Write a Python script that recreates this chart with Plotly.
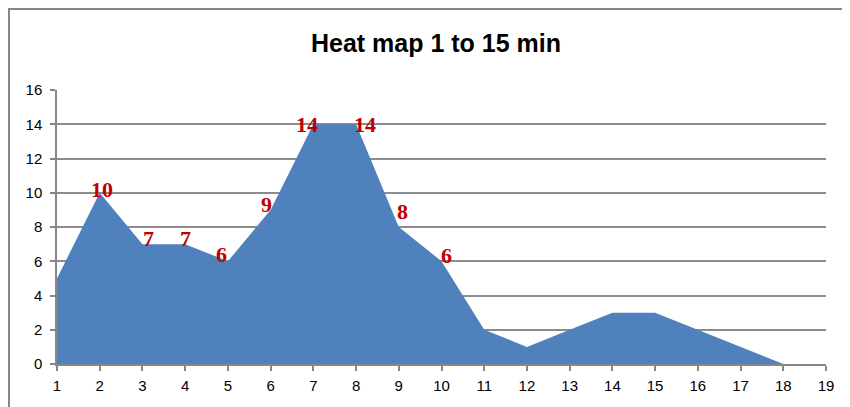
import plotly.graph_objects as go

minutes = [1, 2, 3, 4, 5, 6, 7, 8, 9, 10, 11, 12, 13, 14, 15, 16, 17, 18]
counts = [5, 10, 7, 7, 6, 9, 14, 14, 8, 6, 2, 1, 2, 3, 3, 2, 1, 0]

# labelled points (minute -> shown value)
label_minutes = [2, 3, 4, 5, 6, 7, 8, 9, 10]
label_values = [10, 7, 7, 6, 9, 14, 14, 8, 6]
# pixel nudges of the labels (style)
label_dx = [2, 6, 0, -6, -4, -6, 9, 4, 5]
label_dy = [3, 6, 6, 7, 5, 0, 0, 16, 6]

x_ticks = list(range(1, 20))
y_ticks = list(range(0, 17, 2))

W, H = 850, 407
OFF = 8  # page body margin
L, R, T, B = 57 - OFF, 24 + OFF, 90 - OFF, 43 + OFF
pw, ph = W - L - R, H - T - B

fig = go.Figure()
fig.add_trace(go.Scatter(
    x=minutes, y=counts, mode="lines", fill="tozeroy",
    fillcolor="#4F81BD", line=dict(color="#4F81BD", width=0),
    hoverinfo="x+y", showlegend=False,
))

for m, v, dx, dy in zip(label_minutes, label_values, label_dx, label_dy):
    fig.add_annotation(
        x=m, y=v, text="<b>%d</b>" % v, showarrow=False, xshift=dx, yshift=dy,
        font=dict(family="Liberation Serif, DejaVu Serif, serif", size=22, color="#C00000"),
        xanchor="center", yanchor="middle",
    )

# outer chart border
fig.add_shape(
    type="rect", xref="paper", yref="paper",
    x0=(1 - L) / pw, x1=(W + 20 - L) / pw,
    y0=-(H + 20 - (T + ph)) / ph, y1=1 + (T - 1) / ph,
    line=dict(color="#878787", width=2), fillcolor="rgba(0,0,0,0)", layer="below",
)

tickfont = dict(family="Liberation Sans, Arial, sans-serif", size=15, color="black")

fig.update_layout(
    width=W, height=H,
    margin=dict(l=L, r=R, t=T, b=B),
    paper_bgcolor="white", plot_bgcolor="white",
    title=dict(
        text="<b>Heat map 1 to 15 min</b>",
        x=(436 - OFF) / W, xanchor="center",
        y=1 - (43 - OFF) / H, yanchor="middle",
        font=dict(family="Liberation Sans, Arial, sans-serif", size=25, color="black"),
    ),
    xaxis=dict(
        range=[1, 19], tickmode="array", tickvals=x_ticks,
        ticktext=[str(t) for t in x_ticks],
        showgrid=False, zeroline=False,
        showline=True, linecolor="#868686", linewidth=1.5,
        ticks="outside", ticklen=5, tickcolor="#868686", tickwidth=1.5,
        ticklabelstandoff=2, tickfont=tickfont,
    ),
    yaxis=dict(
        range=[0, 16], tickmode="array", tickvals=y_ticks,
        showgrid=True, gridcolor="#8C8C8C", gridwidth=1.5, zeroline=False,
        showline=True, linecolor="#868686", linewidth=1.5,
        ticks="outside", ticklen=5, tickcolor="#868686", tickwidth=1.5,
        ticklabelstandoff=5, tickfont=tickfont,
    ),
)

fig.write_html("out.html")
